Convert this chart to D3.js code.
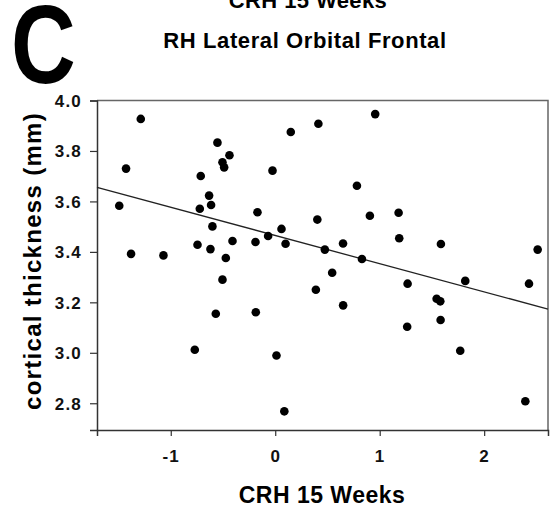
<!DOCTYPE html>
<html>
<head>
<meta charset="utf-8">
<script src="https://cdn.jsdelivr.net/npm/d3@7"></script>
<style>
  body { margin: 0; background: #fff; }
  svg { display: block; font-family: "Liberation Sans", Arial, sans-serif; }
</style>
</head>
<body>
<div id="chart"></div>
<script>
// CRH 15 weeks (z score) vs cortical thickness
var crh = [-1.287, -1.428, -1.493, -0.553, -0.438, -0.505, -0.489, -0.713, -0.026, 0.149,
           0.413, -0.633, -0.614, -0.722, -0.170, 0.403, -0.601, 0.060, -0.068, -0.409,
           -0.189, 0.099, -0.744, -0.620, -1.380, -1.070, -0.473, -0.505, 0.389, -0.569,
           -0.186, -0.770, 0.012, 0.087, 0.957, 0.782, 0.906, 1.181, 1.187, 1.586,
           0.649, 0.475, 0.830, 2.512, 0.545, 1.267, 1.819, 2.429, 0.650, 1.545,
           1.580, 1.583, 1.263, 1.771, 2.394]
var thickness = [3.927, 3.730, 3.583, 3.833, 3.783, 3.755, 3.735, 3.701, 3.722, 3.875,
                 3.908, 3.623, 3.586, 3.571, 3.557, 3.528, 3.501, 3.491, 3.463, 3.443,
                 3.439, 3.432, 3.428, 3.411, 3.392, 3.386, 3.376, 3.290, 3.250, 3.155,
                 3.161, 3.012, 2.989, 2.768, 3.946, 3.662, 3.543, 3.555, 3.454, 3.431,
                 3.433, 3.409, 3.372, 3.409, 3.317, 3.274, 3.285, 3.274, 3.188, 3.214,
                 3.204, 3.130, 3.103, 3.008, 2.808]
var xTicks = [-1, 0, 1, 2]
var yTicks = [2.8, 3.0, 3.2, 3.4, 3.6, 3.8, 4.0]
var fitIntercept = 3.465
var fitSlope = -0.1117

var W = 553, H = 508
var plotL = 97, plotR = 548, plotT = 100.5, plotB = 430

var svg = d3.select("#chart").append("svg").attr("width", W).attr("height", H)

var x = d3.scaleLinear().domain([-1.706, 2.611]).range([plotL, plotR])
var y = d3.scaleLinear().domain([2.694, 4.0]).range([plotB, plotT])

// panel letter and titles
svg.append("text").attr("transform", "translate(11,83) scale(0.8,1)")
   .style("font-size", "112px").style("font-weight", "bold").text("C")
svg.append("text").attr("x", 308).attr("y", 8).attr("text-anchor", "middle")
   .style("font-size", "22px").style("font-weight", "bold").style("letter-spacing", "0.4px").text("CRH 15 Weeks")
svg.append("text").attr("x", 305).attr("y", 48).attr("text-anchor", "middle")
   .style("font-size", "22px").style("font-weight", "bold").style("letter-spacing", "0.6px").text("RH Lateral Orbital Frontal")

// frame
svg.append("path")
   .attr("d", "M" + plotL + "," + plotT + "H" + plotR + "V" + plotB)
   .attr("fill", "none").attr("stroke", "#666").attr("stroke-width", 1.5)

var xAxis = svg.append("g").attr("transform", "translate(0," + plotB + ")")
   .call(d3.axisBottom(x).tickValues(xTicks).tickSize(6).tickPadding(14).tickFormat(d3.format("d")))
var yAxis = svg.append("g").attr("transform", "translate(" + plotL + ",0)")
   .call(d3.axisLeft(y).tickValues(yTicks).tickSize(7).tickPadding(8).tickFormat(d3.format(".1f")))

;[xAxis, yAxis].forEach(function(a) {
    a.attr("font-size", null).attr("font-family", null)
    a.select(".domain").attr("stroke", "#333").attr("stroke-width", 1.5)
    a.selectAll(".tick line").attr("stroke", "#333").attr("stroke-width", 1.2)
    a.selectAll("text").attr("fill", "#111")
     .style("font-size", "17px").style("font-weight", "bold").style("letter-spacing", "1.2px")
})
yAxis.selectAll("text").attr("dy", "0.35em")
xAxis.selectAll("text").text(function(d) { return d < 0 ? "-" + Math.abs(d) : d })

// regression line
var xd = x.domain()
svg.append("line")
   .attr("x1", x(xd[0])).attr("y1", y(fitIntercept + fitSlope * xd[0]))
   .attr("x2", x(xd[1])).attr("y2", y(fitIntercept + fitSlope * xd[1]))
   .attr("stroke", "#222").attr("stroke-width", 1.3)

// points
svg.append("g").selectAll("circle")
   .data(crh).enter().append("circle")
   .attr("cx", function(d) { return x(d) })
   .attr("cy", function(d, i) { return y(thickness[i]) })
   .attr("r", 4.3)
   .attr("fill", "#000")

// axis titles
svg.append("text").attr("x", 322).attr("y", 503).attr("text-anchor", "middle")
   .style("font-size", "23px").style("font-weight", "bold").style("letter-spacing", "0.5px").text("CRH 15 Weeks")
svg.append("text").attr("transform", "translate(41,261) rotate(-90)").attr("text-anchor", "middle")
   .style("font-size", "24px").style("font-weight", "bold").style("letter-spacing", "1.3px").text("cortical thickness (mm)")
</script>
</body>
</html>
